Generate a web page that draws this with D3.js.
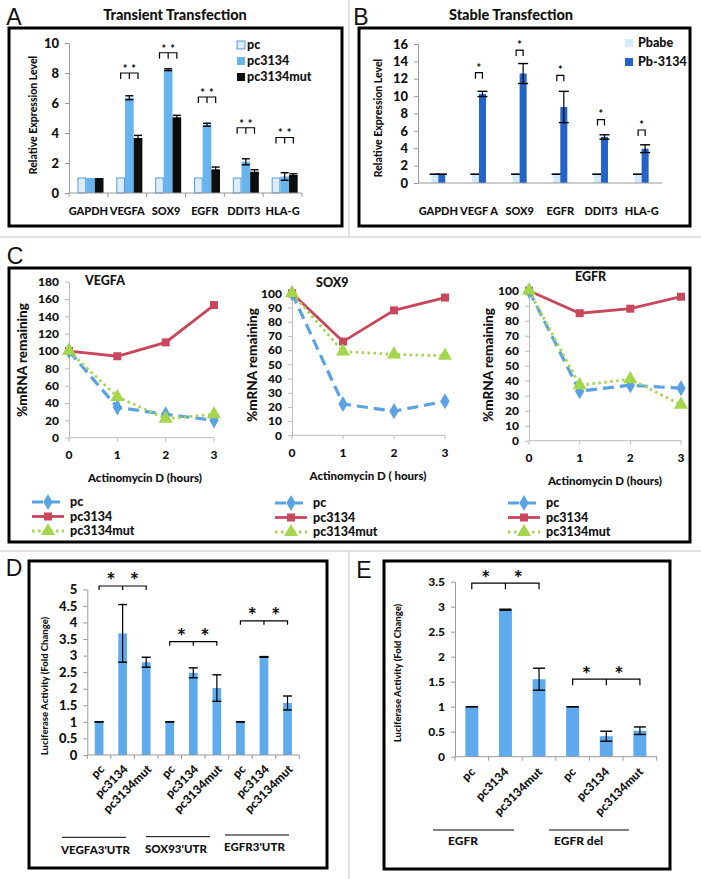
<!DOCTYPE html>
<html><head><meta charset="utf-8">
<script src="https://cdn.jsdelivr.net/npm/d3@7"></script>
<style>body{margin:0;background:#fff}</style>
</head><body><svg id="fig" width="701" height="879"></svg>
<script>
// ---------------- DATA ----------------
// Panel A – transient transfection
const genesA = ["GAPDH","VEGFA","SOX9","EGFR","DDIT3","HLA-G"];
const seriesA = ["pc","pc3134","pc3134mut"];
const pcA = [1,1,1,1,1,1];
const pcA_err = [0,0,0,0,0,0];
const pc3134A = [1,6.35,8.22,4.55,2.08,1.1];
const pc3134A_err = [0,0.13,0.06,0.1,0.2,0.25];
const mutA = [1,3.67,5.05,1.58,1.42,1.2];
const mutA_err = [0,0.17,0.13,0.15,0.13,0.08];
const bracketA = [null,8.0,9.35,6.4,4.35,3.7];
const ticksA = [0,2,4,6,8,10];

// Panel B – stable transfection
const genesB = ["GAPDH","VEGF A","SOX9","EGFR","DDIT3","HLA-G"];
const seriesB = ["Pbabe","Pb-3134"];
const pbabeB = [1,1,1,1,1,1];
const pbabeB_err = [0,0,0,0,0,0];
const pb3134B = [1,10.25,12.6,8.75,5.3,3.95];
const pb3134B_err = [0,0.3,1.15,1.8,0.25,0.45];
const bracketB = [null,12.7,15.3,12.4,7.3,6.1];
const ticksB = [0,2,4,6,8,10,12,14,16];

// Panel C – mRNA decay
const hoursC = [0,1,2,3];
const seriesC = ["pc","pc3134","pc3134mut"];
const vegfaPc = [100,35,27,20];
const vegfaPc3134 = [100,94,110,153];
const vegfaMut = [100,47,22,27];
const sox9Pc = [100,22,17,24];
const sox9Pc3134 = [100,66,88,97];
const sox9Mut = [100,59,57,56];
const egfrPc = [100,33,37,35];
const egfrPc3134 = [100,85,88,96];
const egfrMut = [100,37,41,24];
const ticksVegfa = [0,20,40,60,80,100,120,140,160,180];
const ticksPct = [0,10,20,30,40,50,60,70,80,90,100];

// Panel D – luciferase 3'UTR
const conditionsD = ["pc","pc3134","pc3134mut"];
const groupsD = ["VEGFA3'UTR","SOX93'UTR","EGFR3'UTR"];
const valuesD = [1,3.67,2.8, 1,2.48,2.02, 1,2.96,1.57];
const errD = [0,0.87,0.15, 0,0.15,0.4, 0,0.01,0.21];
const bracketD = [5.1,3.42,4.05];
const ticksD = [0,0.5,1,1.5,2,2.5,3,3.5,4,4.5,5];

// Panel E – luciferase EGFR / EGFR del
const groupsE = ["EGFR","EGFR del"];
const valuesE = [1,2.94,1.55, 1,0.41,0.52];
const errE = [0,0.01,0.22, 0,0.1,0.075];
const bracketE = [3.47,1.55];
const ticksE = [0,0.5,1,1.5,2,2.5,3,3.5];

// ---------------- HELPERS ----------------
const svg = d3.select("#fig");
const FONT = "Lato, 'Open Sans', sans-serif";
const WEIGHT = 900;
const LETTER = "'Liberation Sans', Arial, sans-serif";
function txt(g, x, y, s, o = {}) {
  const t = g.append("text").attr("x", x).attr("y", y).attr("dy", o.dy || ".35em").text(s)
    .attr("font-family", o.family || FONT).attr("font-weight", o.weight || WEIGHT)
    .attr("font-size", o.size || 12).attr("text-anchor", o.anchor || "middle")
    .attr("fill", o.fill || "#111");
  if (o.rotate != null) t.attr("transform", `rotate(${o.rotate},${x},${y})`);
  return t;
}
function box(x0, y0, x1, y1) {
  svg.append("rect").attr("x", x0).attr("y", y0).attr("width", x1 - x0).attr("height", y1 - y0)
    .attr("fill", "none").attr("stroke", "#000").attr("stroke-width", 3);
}
function yAxis(g, y, ticks, x, fs, col) {
  const a = g.append("g").attr("transform", `translate(${x},0)`)
    .call(d3.axisLeft(y).tickValues(ticks).tickSize(4).tickSizeOuter(0).tickPadding(6).tickFormat(d => String(d)));
  a.attr("font-family", null).attr("font-size", null);
  a.select(".domain").attr("stroke", col || "#999");
  a.selectAll(".tick line").attr("stroke", col || "#999");
  a.selectAll(".tick text").attr("font-size", fs).attr("font-family", FONT)
    .attr("font-weight", WEIGHT).attr("fill", "#111");
  return a;
}
function bandXAxis(g, x, y0) {
  const [r0, r1] = x.range();
  g.append("line").attr("x1", r0).attr("x2", r1).attr("y1", y0).attr("y2", y0).attr("stroke", "#999");
  const edges = x.domain().map(d => x(d)).concat([r1]);
  g.selectAll(null).data(edges).join("line")
    .attr("x1", d => d).attr("x2", d => d).attr("y1", y0).attr("y2", y0 + 4).attr("stroke", "#999");
}
function errbar(g, cx, yLo, yHi, w) {
  g.append("line").attr("x1", cx).attr("x2", cx).attr("y1", yLo).attr("y2", yHi).attr("stroke", "#000").attr("stroke-width", 1.2);
  [yLo, yHi].forEach(yy => g.append("line").attr("x1", cx - w / 2).attr("x2", cx + w / 2)
    .attr("y1", yy).attr("y2", yy).attr("stroke", "#000").attr("stroke-width", 1.4));
}
function bracket(g, xs, y, h) {
  let p = `M${xs[0]},${y + h}V${y}H${xs[xs.length - 1]}V${y + h}`;
  if (xs.length === 3) p += `M${xs[1]},${y}V${y + h}`;
  g.append("path").attr("d", p).attr("fill", "none").attr("stroke", "#000").attr("stroke-width", 1.2);
}

// separators
[[0, 237, 701, 237], [349, 0, 349, 237], [0, 551, 701, 551], [349, 551, 349, 879]].forEach(l =>
  svg.append("line").attr("x1", l[0]).attr("y1", l[1]).attr("x2", l[2]).attr("y2", l[3]).attr("stroke", "#c4c4c4").attr("stroke-width", 1));

// ---------------- PANEL A ----------------
{
  const g = svg.append("g");
  txt(g, 14, 17, "A", { family: LETTER, weight: "normal", size: 23 });
  txt(g, 175, 15, "Transient Transfection", { size: 14.5 });
  box(9, 28, 342, 226);
  const x = d3.scaleBand().domain(genesA).range([69, 302]);
  const y = d3.scaleLinear().domain([0, 10]).range([193, 43]);
  const s = d3.scaleBand().domain(seriesA).range([8.5, 34.5]);
  const col = { "pc": "#dcedfa", "pc3134": "#68b4ef", "pc3134mut": "#0d0d0d" };
  const vals = { "pc": pcA, "pc3134": pc3134A, "pc3134mut": mutA };
  const errs = { "pc": pcA_err, "pc3134": pc3134A_err, "pc3134mut": mutA_err };
  yAxis(g, y, ticksA, 69, 13);
  seriesA.forEach(k => {
    g.selectAll(null).data(genesA).join("rect")
      .attr("x", d => x(d) + s(k) + (k === "pc" ? 0.5 : 0)).attr("width", s.bandwidth() - (k === "pc" ? 1 : 0))
      .attr("y", (d, i) => y(vals[k][i])).attr("height", (d, i) => y(0) - y(vals[k][i]))
      .attr("fill", col[k]).attr("stroke", k === "pc" ? "#5b9bd5" : "none");
    genesA.forEach((d, i) => {
      const e = errs[k][i];
      if (e > 0) errbar(g, x(d) + s(k) + s.bandwidth() / 2, y(vals[k][i] - e), y(vals[k][i] + e), 8);
    });
  });
  bandXAxis(g, x, y(0));
  genesA.forEach(d => txt(g, x(d) + x.bandwidth() / 2, 211, d, { size: 11 }));
  genesA.forEach((d, i) => {
    if (bracketA[i] == null) return;
    const xs = seriesA.map(k => x(d) + s(k) + s.bandwidth() / 2);
    const yy = y(bracketA[i]);
    bracket(g, xs, yy, 6);
    txt(g, (xs[0] + xs[1]) / 2, yy - 4, "*", { size: 11 });
    txt(g, (xs[1] + xs[2]) / 2, yy - 4, "*", { size: 11 });
  });
  txt(g, 33, 115, "Relative Expression Level", { size: 10.5, rotate: -90 });
  seriesA.forEach((k, i) => {
    const ly = 45 + i * 16;
    g.append("rect").attr("x", 237).attr("y", ly - 4).attr("width", 8).attr("height", 8)
      .attr("fill", col[k]).attr("stroke", k === "pc" ? "#5b9bd5" : "none");
    txt(g, 247, ly, k, { size: 12.5, anchor: "start" });
  });
}

// ---------------- PANEL B ----------------
{
  const g = svg.append("g");
  txt(g, 361, 17, "B", { family: LETTER, weight: "normal", size: 23 });
  txt(g, 511, 15, "Stable Transfection", { size: 14.5 });
  box(359, 28, 690, 226);
  const x = d3.scaleBand().domain(genesB).range([418, 662]);
  const y = d3.scaleLinear().domain([0, 16]).range([183, 44]);
  const s = d3.scaleBand().domain(seriesB).range([13.3, 27.3]);
  const col = { "Pbabe": "#d5eaf8", "Pb-3134": "#2463c8" };
  const vals = { "Pbabe": pbabeB, "Pb-3134": pb3134B };
  const errs = { "Pbabe": pbabeB_err, "Pb-3134": pb3134B_err };
  yAxis(g, y, ticksB, 418, 13);
  seriesB.forEach(k => {
    g.selectAll(null).data(genesB).join("rect")
      .attr("x", d => x(d) + s(k)).attr("width", s.bandwidth())
      .attr("y", (d, i) => y(vals[k][i])).attr("height", (d, i) => y(0) - y(vals[k][i]))
      .attr("fill", col[k]);
    genesB.forEach((d, i) => {
      const e = errs[k][i];
      errbar(g, x(d) + s(k) + s.bandwidth() / 2, y(vals[k][i] - e), y(vals[k][i] + e), 10);
    });
  });
  g.append("line").attr("x1", 418).attr("x2", 662).attr("y1", y(0)).attr("y2", y(0)).attr("stroke", "#999");
  genesB.forEach(d => txt(g, x(d) + x.bandwidth() / 2, 211, d, { size: 11 }));
  genesB.forEach((d, i) => {
    if (bracketB[i] == null) return;
    const xs = seriesB.map(k => x(d) + s(k) + s.bandwidth() / 2);
    const yy = y(bracketB[i]);
    bracket(g, xs, yy, 6);
    txt(g, (xs[0] + xs[1]) / 2, yy - 5, "*", { size: 11 });
  });
  txt(g, 378, 118, "Relative Expression Level", { size: 10.5, rotate: -90 });
  seriesB.forEach((k, i) => {
    const ly = 43 + i * 19;
    g.append("rect").attr("x", 625).attr("y", ly - 4).attr("width", 8).attr("height", 8).attr("fill", col[k]);
    txt(g, 638, ly, k, { size: 12.5, anchor: "start" });
  });
}

// ---------------- PANEL C ----------------
{
  const g = svg.append("g");
  txt(g, 15, 256, "C", { family: LETTER, weight: "normal", size: 23 });
  box(9, 268, 690, 542);
  const colC = { "pc": "#5aa2e4", "pc3134": "#c9475c", "pc3134mut": "#a3d64b" };
  const dash = { "pc": "11,6", "pc3134": null, "pc3134mut": "2.5,3.5" };
  const wid = { "pc": 3.2, "pc3134": 2.8, "pc3134mut": 2.8 };
  const sym = { "pc": d3.symbolDiamond, "pc3134": d3.symbolSquare, "pc3134mut": d3.symbolTriangle };
  const symSize = { "pc": 75, "pc3134": 64, "pc3134mut": 85 };
  const charts = [
    { title: "VEGFA", data: { "pc": vegfaPc, "pc3134": vegfaPc3134, "pc3134mut": vegfaMut }, ticks: ticksVegfa, ymax: 180,
      x0: 69, x1: 214, y0: 437.7, y1: 281.7, tx: 85, ty: 281, ytx: 22, yty: 360, xtx: 145, xty: 478, lx: 32, ly: 502, xtitle: "Actinomycin D (hours)" },
    { title: "SOX9", data: { "pc": sox9Pc, "pc3134": sox9Pc3134, "pc3134mut": sox9Mut }, ticks: ticksPct, ymax: 100,
      x0: 292, x1: 445, y0: 435.3, y1: 293.3, tx: 316, ty: 283, ytx: 252, yty: 365, xtx: 368, xty: 476, lx: 275, ly: 503, xtitle: "Actinomycin D ( hours)" },
    { title: "EGFR", data: { "pc": egfrPc, "pc3134": egfrPc3134, "pc3134mut": egfrMut }, ticks: ticksPct, ymax: 100,
      x0: 529, x1: 681, y0: 440.7, y1: 290.7, tx: 575, ty: 277, ytx: 488, yty: 365, xtx: 605, xty: 481, lx: 508, ly: 503, xtitle: "Actinomycin D (hours)" }
  ];
  charts.forEach(c => {
    const x = d3.scaleLinear().domain([0, 3]).range([c.x0, c.x1]);
    const y = d3.scaleLinear().domain([0, c.ymax]).range([c.y0, c.y1]);
    yAxis(g, y, c.ticks, c.x0, 12, "#bbb");
    g.append("line").attr("x1", c.x0).attr("x2", c.x1).attr("y1", c.y0).attr("y2", c.y0).attr("stroke", "#bbb");
    hoursC.forEach(h => {
      g.append("line").attr("x1", x(h)).attr("x2", x(h)).attr("y1", c.y0).attr("y2", c.y0 + 4).attr("stroke", "#bbb");
      txt(g, x(h), c.y0 + 17, String(h), { size: 12 });
    });
    txt(g, c.tx, c.ty, c.title, { size: 12.5, anchor: "start" });
    txt(g, c.ytx, c.yty, "%mRNA remaining", { size: 13.5, rotate: -90 });
    txt(g, c.xtx, c.xty, c.xtitle, { size: 11.5 });
    const line = d3.line().x((d, i) => x(hoursC[i])).y(d => y(d));
    seriesC.forEach(k => {
      g.append("path").attr("d", line(c.data[k])).attr("fill", "none").attr("stroke", colC[k])
        .attr("stroke-width", wid[k]).attr("stroke-dasharray", dash[k]);
      g.selectAll(null).data(c.data[k]).join("path")
        .attr("d", d3.symbol().type(sym[k]).size(symSize[k]))
        .attr("transform", (d, i) => `translate(${x(hoursC[i])},${y(d)})`).attr("fill", colC[k]);
    });
    seriesC.forEach((k, i) => {
      const ly = c.ly + i * 14.5;
      g.append("line").attr("x1", c.lx).attr("x2", c.lx + 32).attr("y1", ly).attr("y2", ly)
        .attr("stroke", colC[k]).attr("stroke-width", wid[k]).attr("stroke-dasharray", dash[k]);
      g.append("path").attr("d", d3.symbol().type(sym[k]).size(symSize[k])())
        .attr("transform", `translate(${c.lx + 16},${ly})`).attr("fill", colC[k]);
      txt(g, c.lx + 38, ly, k, { size: 12.5, anchor: "start" });
    });
  });
}

// ---------------- PANEL D ----------------
{
  const g = svg.append("g");
  txt(g, 14, 568, "D", { family: LETTER, weight: "normal", size: 23 });
  box(29, 561, 327, 868);
  const keys = groupsD.flatMap(gr => conditionsD.map(c => gr + "|" + c));
  const x = d3.scaleBand().domain(keys).range([87.3, 299.3]);
  const y = d3.scaleLinear().domain([0, 5]).range([755, 589.3]);
  const bw = 8.7;
  const cx = i => x(keys[i]) + x.bandwidth() / 2;
  yAxis(g, y, ticksD, 87.3, 13);
  g.selectAll(null).data(valuesD).join("rect")
    .attr("x", (d, i) => cx(i) - bw / 2).attr("width", bw)
    .attr("y", d => y(d)).attr("height", d => y(0) - y(d)).attr("fill", "#5eaaed");
  valuesD.forEach((v, i) => errbar(g, cx(i), y(v - errD[i]), y(v + errD[i]), 9));
  bandXAxis(g, x, y(0));
  keys.forEach((k, i) => txt(g, cx(i) + 3, y(0) + 12, conditionsD[i % 3], { size: 12, anchor: "end", rotate: -45 }));
  groupsD.forEach((gr, j) => {
    const xs = [cx(3 * j), cx(3 * j + 1), cx(3 * j + 2)];
    const yy = y(bracketD[j]);
    bracket(g, xs, yy, 4);
    txt(g, (xs[0] + xs[1]) / 2, yy - 5, "*", { size: 21 });
    txt(g, (xs[1] + xs[2]) / 2, yy - 5, "*", { size: 21 });
  });
  const grpLayout = [[62, 837.3, 850], [146, 836.7, 848.5], [225, 835, 846.5]];
  groupsD.forEach((gr, j) => {
    const [lx, lyy, ty] = grpLayout[j];
    g.append("line").attr("x1", lx).attr("x2", lx + 64).attr("y1", lyy).attr("y2", lyy).attr("stroke", "#000").attr("stroke-width", 1);
    txt(g, lx - 1, ty, gr, { size: 11.5, anchor: "start" });
  });
  txt(g, 45, 686, "Luciferase Activity (Fold Change)", { size: 9.5, rotate: -90 });
}

// ---------------- PANEL E ----------------
{
  const g = svg.append("g");
  txt(g, 364, 570, "E", { family: LETTER, weight: "normal", size: 23 });
  box(384, 561, 670, 869);
  const keys = groupsE.flatMap(gr => conditionsD.map(c => gr + "|" + c));
  const x = d3.scaleBand().domain(keys).range([455, 656.7]);
  const y = d3.scaleLinear().domain([0, 3.5]).range([756.7, 581.7]);
  const bw = 13;
  const cx = i => x(keys[i]) + x.bandwidth() / 2;
  yAxis(g, y, ticksE, 455, 12);
  g.selectAll(null).data(valuesE).join("rect")
    .attr("x", (d, i) => cx(i) - bw / 2).attr("width", bw)
    .attr("y", d => y(d)).attr("height", d => y(0) - y(d)).attr("fill", "#5eaaed");
  valuesE.forEach((v, i) => errbar(g, cx(i), y(v - errE[i]), y(v + errE[i]), 12));
  bandXAxis(g, x, y(0));
  keys.forEach((k, i) => txt(g, cx(i) + 1, y(0) + 13, conditionsD[i % 3], { size: 12, anchor: "end", rotate: -45 }));
  groupsE.forEach((gr, j) => {
    const xs = [cx(3 * j), cx(3 * j + 1), cx(3 * j + 2)];
    const yy = y(bracketE[j]);
    bracket(g, xs, yy, 6);
    txt(g, (xs[0] + xs[1]) / 2 - 3, yy - 5, "*", { size: 21 });
    txt(g, (xs[1] + xs[2]) / 2 - 4, yy - 5, "*", { size: 21 });
  });
  const grpLayout = [[433, 81, 448], [549, 80, 554]];
  groupsE.forEach((gr, j) => {
    const [lx, lw, tx] = grpLayout[j];
    g.append("line").attr("x1", lx).attr("x2", lx + lw).attr("y1", 830).attr("y2", 830).attr("stroke", "#000").attr("stroke-width", 1);
    txt(g, tx, 841, gr, { size: 12, anchor: "start" });
  });
  txt(g, 398, 673, "Luciferase Activity (Fold Change)", { size: 9.5, rotate: -90 });
}
</script></body></html>
